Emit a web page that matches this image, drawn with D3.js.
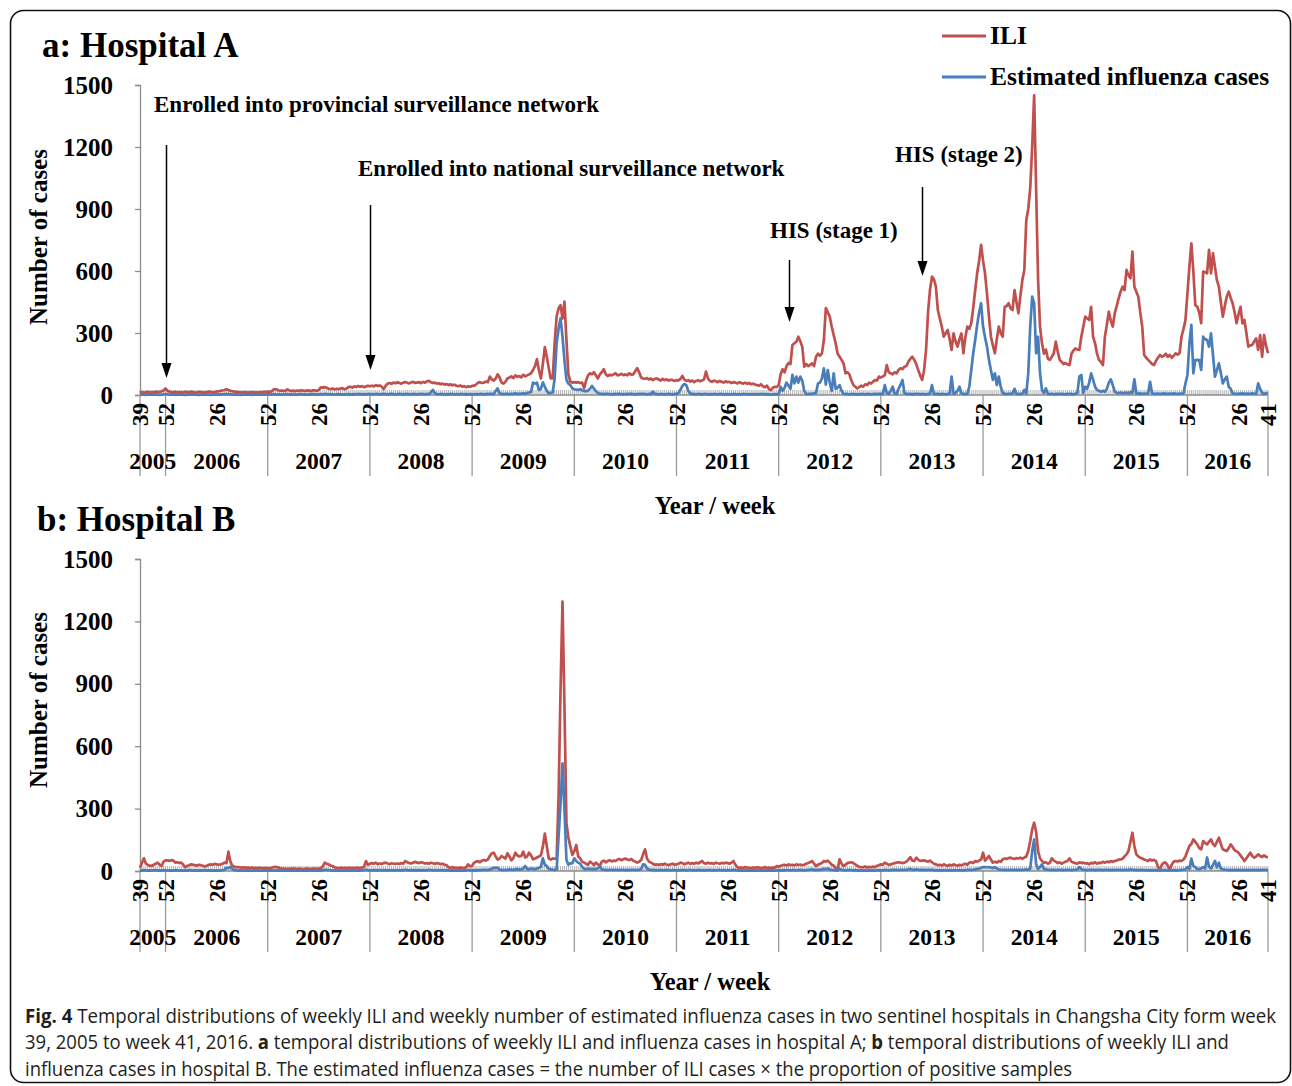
<!DOCTYPE html>
<html>
<head>
<meta charset="utf-8">
<script src="https://cdn.jsdelivr.net/npm/d3@7/dist/d3.min.js"></script>
<style>
  body { margin: 0; background: #fff; }
  svg { display: block; }
</style>
</head>
<body>
<svg id="fig" width="1292" height="1086"></svg>
<script>
// Weekly series, week 39 of 2005 through week 41 of 2016 (52-week years).
const firstYear = 2005, lastYear = 2016, firstWeek = 39, lastWeek = 41;
const years = ["2005","2006","2007","2008","2009","2010","2011","2012","2013","2014","2015","2016"];
const yTicks = [0, 300, 600, 900, 1200, 1500];
const midWeekLabel = 26, yearEndLabel = 52;
const legendNames = ["ILI", "Estimated influenza cases"];

// Hospital A: weekly ILI cases
const iliA = [
  12,14,11,13,15,12,14,13,16,14,15,18,22,32,
  20,16,14,13,15,12,14,13,12,15,14,13,16, 14,12,13,15,14,13,12,14,16,15,13,14,16,
  18,20,22,24,28,24,20,18,16,15,14,13,12, 14,13,12,13,14,12,13,12,14,13,15,14,16,
  15,18,27,28,25,20,22,19,21,27,22,20,21, 19,22,20,23,21,20,22,21,19,23,22,20,24,
  37,36,38,35,30,28,32,27,30,29,31,33,28, 30,38,40,36,42,39,44,40,43,38,41,45,42,
  45,42,48,44,46,40,28,45,55,58,54,60,57, 62,58,55,60,63,59,56,61,64,58,60,62,57,
  63,60,66,69,62,58,60,55,57,52,55,50,53, 48,52,47,50,45,42,46,40,43,38,42,40,44,
  45,50,60,62,58,60,65,62,89,75,70,80,100, 85,60,55,65,80,85,90,82,95,88,92,85,98,
  90,95,100,105,121,140,174,120,80,150,232,185,130, 80,80,250,380,420,435,370,452,266,100,65,60,62,
  60,62,58,60,32,70,95,105,100,110,95,80,100, 110,125,100,92,98,95,100,105,95,98,102,96,100,
  95,105,98,100,115,130,110,85,80,78,82,75,80, 72,78,80,75,70,78,72,76,70,74,72,68,72,
  70,78,92,75,68,72,65,70,62,68,72,66,70, 75,113,80,68,64,70,66,62,68,64,60,66,62,
  64,58,62,60,56,62,58,55,60,54,58,52,55, 50,48,45,52,42,38,45,30,24,35,40,38,48,
  100,125,110,140,155,150,242,250,258,282,260,234,137, 150,140,145,153,140,185,200,190,200,266,420,400,379,
  330,290,250,200,185,170,153,105,110,100,70,48,40, 32,38,45,40,52,48,60,55,65,72,70,89,85,
  90,95,145,110,105,100,110,105,121,130,125,137,140, 161,175,185,170,150,121,95,73,120,218,400,508,573,
  560,524,411,370,331,282,300,315,270,218,298,260,234, 270,298,202,280,331,320,347,420,508,589,650,726,650,
  589,492,380,282,240,202,270,331,300,282,427,430,444, 420,411,508,450,395,480,556,605,847,900,1000,1200,1450,
  1000,560,330,250,200,220,175,170,185,202,258,210,170, 160,150,155,148,145,200,215,226,220,218,282,330,379,
  370,363,427,282,250,200,170,160,145,282,340,403,360, 331,395,430,468,500,524,508,605,580,565,694,524,500,
  476,400,331,194,180,170,160,150,145,165,180,194,185, 190,200,185,194,180,190,202,195,202,282,320,363,492,
  621,734,600,435,427,400,347,597,595,589,702,589,686, 620,556,524,450,379,430,476,500,470,444,400,347,390,
  427,347,363,300,234,240,242,260,274,218,290,185,290, 240,202
];

// Hospital A: estimated influenza cases
const fluA = [
  2,3,2,1,2,3,2,2,3,2,1,2,3,5,
  3,2,2,3,1,2,2,3,2,1,2,3,2, 2,3,2,1,2,2,3,2,2,1,3,2,2,
  3,2,4,3,5,4,3,2,2,3,2,1,2, 2,3,2,2,1,2,3,2,2,3,2,2,3,
  3,2,4,3,2,3,2,2,3,4,2,3,2, 3,2,3,4,2,3,2,3,2,4,3,2,3,
  4,3,5,4,3,4,3,2,3,4,3,3,2, 3,4,3,2,4,3,5,4,3,4,3,5,4,
  4,3,5,4,3,4,5,4,3,4,5,4,3, 4,5,4,3,5,4,4,3,5,4,3,4,5,
  4,3,5,4,12,25,10,4,3,5,4,3,4, 3,4,5,3,4,3,4,5,3,4,3,4,3,
  3,4,3,5,4,3,5,4,6,5,4,20,32, 8,5,4,6,5,4,6,5,8,6,5,7,8,
  6,10,12,15,60,55,60,24,30,61,40,20,8, 10,12,80,250,320,371,282,169,73,55,48,32,28,
  26,24,28,22,20,18,22,30,44,30,18,10,6, 5,4,6,5,4,3,5,4,6,5,4,3,5,
  4,6,5,4,3,5,4,6,5,4,3,5,4, 16,5,4,3,5,4,3,4,5,4,3,5,6,
  10,25,44,53,48,20,8,5,4,3,5,4,3, 4,5,3,4,3,5,4,3,4,5,3,4,3,
  4,3,5,4,3,4,3,5,4,3,4,3,4, 3,4,3,5,4,3,4,3,2,3,4,3,5,
  40,20,35,60,45,30,97,56,89,60,89,70,20, 5,4,6,5,8,10,56,60,80,129,50,121,60,
  20,105,30,35,48,20,6,4,5,3,4,5,3, 4,3,5,4,3,4,5,3,4,5,4,6,5,
  5,48,10,5,20,40,8,5,30,50,73,10,5, 4,6,3,5,4,6,3,5,4,3,5,6,48,
  5,4,6,3,5,4,3,5,6,89,5,10,20, 40,8,5,4,5,40,120,202,266,339,400,444,331,
  280,234,170,120,73,105,48,89,40,10,5,4,6, 5,8,30,5,4,6,5,25,6,105,331,476,444,
  202,282,105,24,10,32,5,4,6,3,5,4,6, 4,5,3,6,4,5,3,6,10,89,97,10,40,
  30,60,105,73,40,24,20,16,20,16,30,60,76, 48,16,10,8,12,8,10,12,8,14,10,76,8,
  6,8,5,7,6,8,64,8,5,6,7,5,6, 8,5,6,7,5,8,6,5,7,6,8,56,97,
  250,339,105,169,170,169,121,282,270,266,234,298,194, 89,120,153,105,56,75,89,40,30,8,6,5,7,
  6,8,5,7,6,5,8,6,5,56,30,10,5, 8,10
];

// Hospital B: weekly ILI cases
const iliB = [
  16,40,61,35,29,26,24,30,35,40,30,24,45,51,
  51,48,52,50,40,42,38,40,30,19,25,28,32, 30,28,26,30,28,25,22,25,30,32,30,34,32,
  30,32,35,40,38,93,45,25,22,18,19,17,16, 18,15,16,14,17,13,15,14,16,13,14,15,13,
  13,15,19,20,18,14,12,10,11,9,12,10,13, 11,9,12,10,8,11,13,10,9,12,11,10,12,
  14,22,40,35,32,26,24,18,15,13,16,14,15, 13,16,14,15,13,16,15,14,17,20,48,30,35,
  38,35,40,32,36,34,38,40,36,33,37,35,34, 36,34,38,35,48,42,38,36,40,44,40,38,42,
  40,36,38,35,40,37,34,38,36,33,35,30,28, 18,15,19,14,16,13,17,15,14,18,32,22,25,
  40,45,48,42,50,53,50,55,72,85,88,70,55, 60,72,65,60,85,70,51,62,88,75,70,72,93,
  65,70,88,75,56,60,65,70,75,117,180,120,60, 55,61,58,61,357,870,1295,790,229,160,117,77,95,
  125,70,60,45,40,35,30,45,38,28,40,32,25, 45,50,42,48,52,46,50,48,55,58,52,56,60,
  55,52,58,50,45,40,45,52,80,104,60,45,40, 35,30,32,29,33,30,35,31,28,32,35,30,32,
  35,40,38,32,36,40,34,38,35,40,36,42,48, 38,35,40,36,38,34,40,37,35,39,36,40,38,
  35,40,48,30,18,15,17,14,19,16,15,13,17, 14,18,16,13,15,19,14,16,13,17,15,24,20,
  25,28,30,26,32,28,30,27,32,29,31,28,30, 35,38,42,48,35,24,30,35,38,48,45,50,40,
  30,25,15,8,56,35,24,30,38,40,42,38,32, 25,20,19,18,22,17,20,18,21,19,25,28,32,
  30,40,35,29,32,35,38,40,42,40,38,40,45, 55,67,50,48,64,55,48,50,51,48,45,50,42,
  35,32,28,30,26,32,28,24,30,26,32,28,25, 30,27,32,35,30,40,42,38,48,45,50,55,88,
  50,60,72,55,40,45,40,48,44,56,60,58,62, 64,60,58,62,60,64,58,65,70,96,144,200,232,
  190,96,60,48,40,42,35,40,61,50,45,38,42, 35,40,45,48,61,45,40,38,35,42,38,40,36,
  38,32,40,36,42,35,40,38,44,40,45,42,48, 44,48,50,55,56,58,70,80,96,140,184,120,80,
  70,64,60,55,52,48,56,50,54,48,20,8,30, 40,40,25,8,30,45,48,46,50,48,55,70,96,
  120,130,152,140,128,110,104,144,135,128,140,152,130, 120,140,160,130,104,100,96,110,128,115,100,95,88,
  75,62,48,60,75,88,72,64,70,80,72,67,75, 68,67
];

// Hospital B: estimated influenza cases
const fluB = [
  3,2,4,3,2,3,2,3,4,3,2,3,4,3,
  3,2,3,2,4,3,2,3,2,3,2,4,3, 2,3,2,3,2,3,4,2,3,2,3,2,3,
  2,3,4,6,16,14,20,10,4,3,2,3,2, 3,2,3,2,2,3,2,3,2,2,3,2,3,
  2,3,2,2,3,2,2,3,2,2,3,2,2, 3,2,2,3,2,2,3,2,2,3,2,2,3,
  2,4,6,5,4,3,2,3,2,2,3,2,2, 3,2,2,3,2,2,3,2,3,4,6,4,3,
  3,4,3,4,3,4,3,4,3,4,3,4,3, 4,3,4,3,6,4,3,4,3,4,3,4,3,
  4,3,4,5,4,3,4,3,4,3,4,3,4, 3,2,3,2,3,2,3,2,3,2,5,3,4,
  3,4,3,5,4,6,5,4,8,10,16,14,16, 6,5,4,6,5,8,6,5,8,10,6,8,12,
  24,10,8,12,10,8,12,15,20,61,30,24,10, 8,6,5,6,165,325,518,293,53,30,37,37,61,
  48,40,35,20,10,8,12,9,10,8,10,12,24, 8,6,5,4,6,5,4,6,5,4,6,5,4,
  5,4,6,5,4,6,5,8,32,30,12,6,5, 4,5,3,4,5,3,4,5,4,3,5,4,3,
  4,3,5,4,3,4,5,3,4,3,5,4,3, 4,3,4,5,3,4,3,4,5,3,4,3,4,
  3,4,5,4,3,2,3,2,3,2,3,2,3, 2,3,2,3,2,3,2,3,2,3,2,3,4,
  3,4,3,5,4,3,5,4,3,4,5,4,3, 4,5,6,8,5,4,6,5,8,10,8,12,6,
  5,4,3,2,10,5,4,3,4,5,4,3,4, 3,2,3,2,3,2,3,2,3,2,3,4,3,
  3,5,4,3,4,5,6,5,4,5,6,5,6, 8,10,6,5,8,6,5,6,5,4,5,6,5,
  4,3,4,3,4,3,4,3,4,3,4,3,4, 3,4,3,4,5,6,5,6,8,10,12,15,19,
  19,18,19,16,14,19,12,8,6,5,6,5,6, 5,6,5,6,5,6,5,6,8,6,10,96,152,
  32,10,19,32,10,8,6,5,6,5,4,5,6, 5,4,5,6,5,4,5,6,8,19,10,6,5,
  4,5,6,5,4,5,6,5,4,5,6,5,4, 5,4,5,6,5,4,5,6,5,8,6,5,4,
  5,4,5,4,3,4,3,4,3,4,3,4,3, 4,3,4,3,4,3,4,3,4,5,6,8,19,
  10,60,25,19,10,8,12,19,12,65,20,12,30, 48,18,40,12,8,6,5,4,5,4,5,4,5,
  4,5,4,5,4,5,4,5,4,5,4,5,6, 5,4
];

// Timeline notes placed on hospital A
const notes = [
  { text: "Enrolled into provincial surveillance network", at: "2005-52", tx: 154, ty: 112, from: 145, to: 378 },
  { text: "Enrolled into national surveillance network",   at: "2007-52", tx: 358, ty: 176, from: 205, to: 370 },
  { text: "HIS (stage 1)",                                 at: "2012-5",  tx: 770, ty: 238, from: 260, to: 322 },
  { text: "HIS (stage 2)",                                 at: "2013-21", tx: 895, ty: 162, from: 187, to: 276 }
];

// ---- category list -------------------------------------------------------
const weeks = [];
for (let y = firstYear; y <= lastYear; y++) {
  const w0 = y === firstYear ? firstWeek : 1;
  const w1 = y === lastYear ? lastWeek : 52;
  for (let w = w0; w <= w1; w++) weeks.push({ year: y, week: w, key: y + "-" + w });
}
const keys = weeks.map(d => d.key);

const RED = "#C0504D", BLUE = "#4A7EBB";
const SERIF = "'Liberation Serif','Times New Roman',Times,serif";

const svg = d3.select("#fig");

// frame
svg.append("rect")
  .attr("x", 10.5).attr("y", 10.5).attr("width", 1280).attr("height", 1072)
  .attr("rx", 13).attr("fill", "none").attr("stroke", "#111").attr("stroke-width", 1.6);

const x = d3.scalePoint().domain(keys).range([140, 1268]);

const panels = [
  { title: "a: Hospital A", tX: 42, tY: 57, y0: 395, y1: 85,  ili: iliA, flu: fluA,
    xTitle: [715, 514], yTitle: [38, 237], lineEnd: 476, yearY: 469 },
  { title: "b: Hospital B", tX: 37, tY: 531, y0: 871, y1: 559, ili: iliB, flu: fluB,
    xTitle: [710, 990], yTitle: [38, 700], lineEnd: 952, yearY: 945 }
];

// positions of the year separators: first week, every week 52, last week
const sepKeys = [keys[0]].concat(weeks.filter(d => d.week === 52).map(d => d.key), [keys[keys.length - 1]]);

panels.forEach(p => {
  const g = svg.append("g");
  const y = d3.scaleLinear().domain([0, 1500]).range([p.y0, p.y1]);

  g.append("text").attr("x", p.tX).attr("y", p.tY)
    .attr("font-family", SERIF).attr("font-weight", "bold").attr("font-size", 35)
    .text(p.title);

  // y axis
  const ya = g.append("g").attr("transform", "translate(140,0)")
    .call(d3.axisLeft(y).tickValues(yTicks).tickFormat(d3.format("d")).tickSize(5).tickPadding(22));
  ya.selectAll("path,line").attr("stroke", "#8c8c8c").attr("stroke-width", 1.3);
  ya.selectAll("text").attr("font-family", SERIF).attr("font-weight", "bold")
    .attr("font-size", 25).attr("fill", "#000");

  g.append("text")
    .attr("transform", `translate(${p.yTitle[0]},${p.yTitle[1]}) rotate(-90)`)
    .attr("text-anchor", "middle").attr("dy", "0.35em")
    .attr("font-family", SERIF).attr("font-weight", "bold").attr("font-size", 25)
    .text("Number of cases");

  // weekly tick hatch along the category axis
  g.append("g").selectAll("line").data(keys).join("line")
    .attr("x1", d => x(d)).attr("x2", d => x(d))
    .attr("y1", p.y0).attr("y2", p.y0 - 5)
    .attr("stroke", "#a0a0a0").attr("stroke-width", 0.8);

  // year separators
  g.append("g").selectAll("line").data(sepKeys).join("line")
    .attr("x1", d => x(d)).attr("x2", d => x(d))
    .attr("y1", p.y0).attr("y2", p.lineEnd)
    .attr("stroke", "#9a9a9a").attr("stroke-width", 1.3);

  g.append("line").attr("x1", 140).attr("x2", 1268).attr("y1", p.y0).attr("y2", p.y0)
    .attr("stroke", "#8c8c8c").attr("stroke-width", 1.3);

  // week labels
  const labelled = weeks.filter((d, i) => i === 0 || i === weeks.length - 1 ||
    d.week === yearEndLabel || d.week === midWeekLabel);
  g.append("g").selectAll("text").data(labelled).join("text")
    .attr("transform", d => `translate(${x(d.key)},${p.y0 + 8}) rotate(-90)`)
    .attr("text-anchor", "end").attr("dy", "0.35em")
    .attr("font-family", SERIF).attr("font-weight", "bold").attr("font-size", 23)
    .text(d => d.week);

  // year labels between separators
  g.append("g").selectAll("text").data(years).join("text")
    .attr("x", (d, i) => (x(sepKeys[i]) + x(sepKeys[i + 1])) / 2)
    .attr("y", p.yearY).attr("text-anchor", "middle")
    .attr("font-family", SERIF).attr("font-weight", "bold").attr("font-size", 23.5)
    .text(d => d);

  g.append("text").attr("x", p.xTitle[0]).attr("y", p.xTitle[1]).attr("text-anchor", "middle")
    .attr("font-family", SERIF).attr("font-weight", "bold").attr("font-size", 24.5)
    .text("Year / week");

  // series
  const line = d3.line().x((d, i) => x(keys[i])).y(d => y(d));
  g.append("path").datum(p.ili).attr("d", line)
    .attr("fill", "none").attr("stroke", RED).attr("stroke-width", 2.7)
    .attr("stroke-linejoin", "round");
  g.append("path").datum(p.flu).attr("d", line)
    .attr("fill", "none").attr("stroke", BLUE).attr("stroke-width", 2.7)
    .attr("stroke-linejoin", "round");
});

// legend
const legend = svg.append("g");
[RED, BLUE].forEach((c, i) => {
  const ly = 36 + i * 41;
  legend.append("line").attr("x1", 942).attr("x2", 986).attr("y1", ly).attr("y2", ly)
    .attr("stroke", c).attr("stroke-width", 3);
  legend.append("text").attr("x", 990).attr("y", ly + 8)
    .attr("font-family", SERIF).attr("font-weight", "bold").attr("font-size", 25.5)
    .text(legendNames[i]);
});

// annotations with arrows
const ann = svg.append("g");
notes.forEach(n => {
  ann.append("text").attr("x", n.tx).attr("y", n.ty)
    .attr("font-family", SERIF).attr("font-weight", "bold").attr("font-size", 23)
    .text(n.text);
  const ax = Math.round(x(n.at)) + 0.5;
  ann.append("line").attr("x1", ax).attr("x2", ax).attr("y1", n.from).attr("y2", n.to - 14)
    .attr("stroke", "#000").attr("stroke-width", 1.5);
  ann.append("path")
    .attr("d", `M${ax - 5},${n.to - 15} L${ax + 5},${n.to - 15} L${ax},${n.to} Z`)
    .attr("fill", "#000");
});

// caption: each line is set at its natural width, then narrowed to its measure
const CAP = "'Open Sans','Noto Sans',sans-serif";
const capLines = [
  { y: 1023, len: 1252, parts: [["Fig. 4", true], [" Temporal distributions of weekly ILI and weekly number of estimated influenza cases in two sentinel hospitals in Changsha City form week", false]] },
  { y: 1049, len: 1205, parts: [["39, 2005 to week 41, 2016. ", false], ["a", true], [" temporal distributions of weekly ILI and influenza cases in hospital A; ", false], ["b", true], [" temporal distributions of weekly ILI and", false]] },
  { y: 1076, len: 1048, parts: [["influenza cases in hospital B. The estimated influenza cases = the number of ILI cases \u00d7 the proportion of positive samples", false]] }
];
capLines.forEach(l => {
  const g = svg.append("g");
  const t = g.append("text").attr("x", 0).attr("y", 0)
    .attr("font-family", CAP).attr("font-size", 19.5).attr("fill", "#231f20");
  l.parts.forEach(([s, b]) => t.append("tspan").attr("font-weight", b ? "bold" : "normal").text(s));
  const w = t.node().getComputedTextLength();
  g.attr("transform", `translate(25,${l.y}) scale(${l.len / w},1)`);
});
</script>
</body>
</html>
